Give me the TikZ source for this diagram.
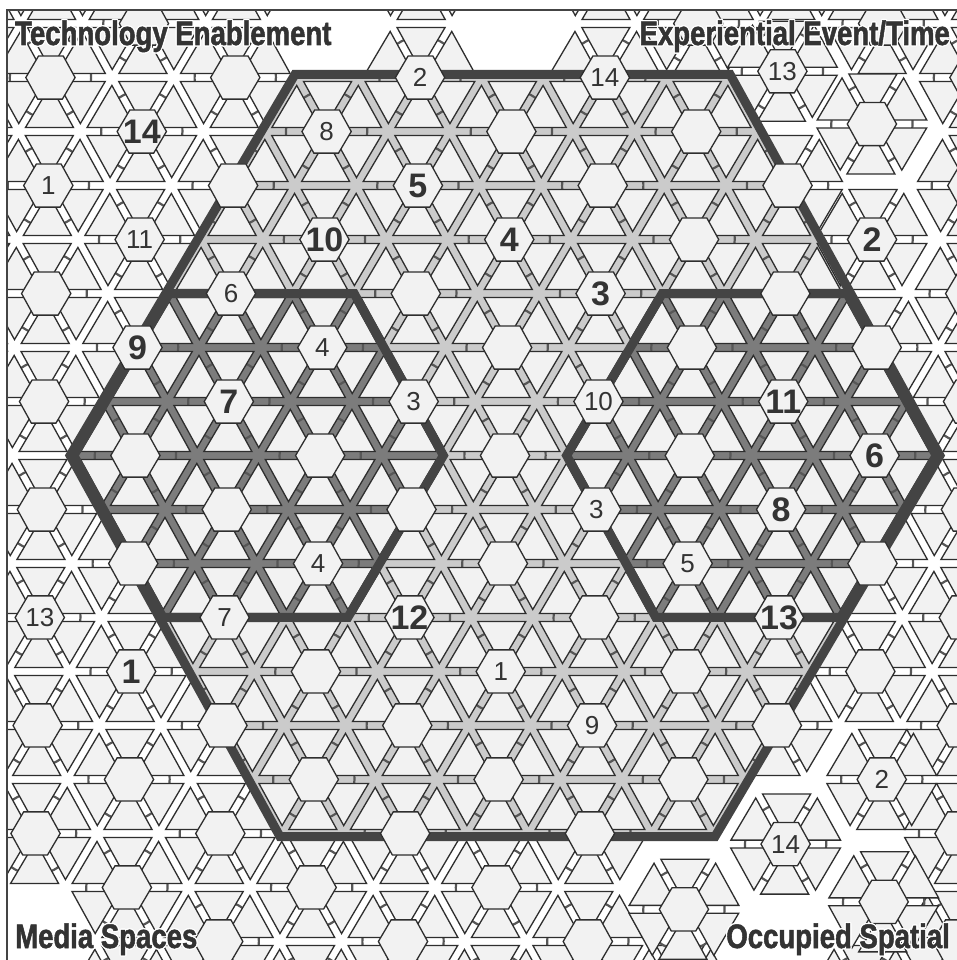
\documentclass[tikz,border=0pt]{standalone}
\usepackage{fontspec}
\usepackage{contour}
\newfontfamily\numfont{Liberation Sans}
\newfontfamily\titlefont[FakeStretch=0.81, BoldFeatures={FakeBold=1.5}]{Liberation Sans}
\contourlength{1.2pt}

\definecolor{tilefill}{HTML}{F2F2F2}
\definecolor{tileline}{HTML}{2E2E2E}
\definecolor{bandlight}{HTML}{CBCBCB}
\definecolor{bandmid}{HTML}{7C7C7C}
\definecolor{rim}{HTML}{444444}
\definecolor{ink}{HTML}{333333}

\tikzset{
  tri/.style={fill=tilefill, draw=tileline, line width=1.3pt},
  hexa/.style={fill=tilefill, draw=tileline, line width=1.3pt},
  notch/.style={draw=rim!90, line width=2.2pt},
  rimline/.style={draw=rim, line width=9pt, line join=miter},
  bignum/.style={font=\numfont\bfseries\fontsize{34}{34}\selectfont, text=ink, inner sep=0pt},
  smallnum/.style={font=\numfont\fontsize{26}{26}\selectfont, text=ink, inner sep=0pt},
  corner/.style={font=\titlefont\bfseries\fontsize{34}{34}\selectfont, text=ink, inner sep=0pt},
}

% six triangles round a tile
\newcommand{\petals}[3]{%
  \begin{scope}[shift={({#2},{#3})}]
    \draw[notch] (0,0) circle[radius=0.66];
    \foreach \k in {0,...,5}
      \draw[tri] (60*\k+30:0.127) -- ++(60*\k:0.78) -- ++(60*\k+120:0.78) -- cycle;
  \end{scope}}
% the hexagon itself
\newcommand{\hexcore}[3]{%
  \begin{scope}[shift={({#2},{#3})}]
    \coordinate (#1) at (0,0);
    \draw[hexa] (0:0.4) -- ++(120:0.4) -- ++(180:0.4) -- ++(240:0.4) -- ++(300:0.4) -- ++(0:0.4) -- cycle;
  \end{scope}}

\newcommand{\skipflower}[2]{\expandafter\def\csname skip@#1@#2\endcsname{}}
\skipflower{-2}{-3}
\skipflower{0}{-4}
\skipflower{-5}{7}
\skipflower{-6}{7}
\skipflower{3}{3}
\skipflower{3}{2}
\skipflower{4}{1}
\skipflower{4}{2}
\skipflower{2}{3}
\skipflower{3}{-5}
\skipflower{4}{-5}
\skipflower{4}{-4}

\newcommand{\eachtile}[1]{%
  \foreach \i in {-6,...,6}{
    \pgfmathtruncatemacro{\jlo}{ceil(-4.6-0.5*\i)}
    \pgfmathtruncatemacro{\jhi}{floor(5.1-0.5*\i)}
    \foreach \j in {\jlo,...,\jhi}{
      \ifcsname skip@\i@\j\endcsname\else
        #1{f\i_\j}{1.5*\i}{1.7320508*(\j+0.5*\i)}
      \fi}}
  % loose ones
  \foreach \i/\j/\dx/\dy in {3/2/0.18/0.17, 4/1/0.22/0, 4/2/0.29/0.23, 2/3/0.05/0.35,
                             3/-5/-0.12/-0.1, 4/-5/-0.15/-0.12, 4/-4/-0.11/0}
    {#1{f\i_\j}{1.5*\i+(\dx)}{1.7320508*(\j+0.5*\i)+(\dy)}}}

\begin{document}
\begin{tikzpicture}
\useasboundingbox (0pt,0pt) rectangle (957pt,-960pt);
\fill[white] (0pt,0pt) rectangle (957pt,-960pt);

\begin{scope}
  \clip (7pt,-10pt) rectangle (960pt,-963pt);
  \begin{scope}[shift={(505pt,-455.5pt)}, x={(61.6pt,0pt)}, y={(-1.23pt,-62.35pt)}]
    % band colours
    \fill[bandlight] (7.06,0) -- (3.53,6.114) -- (-3.53,6.114) -- (-7.06,0) -- (-3.53,-6.114) -- (3.53,-6.114) -- cycle;
    \fill[bandmid] (-1,0) -- (-2.5,2.598) -- (-5.5,2.598) -- (-7,0) -- (-5.5,-2.598) -- (-2.5,-2.598) -- cycle;
    \fill[bandmid] (7,0) -- (5.5,2.598) -- (2.5,2.598) -- (1,0) -- (2.5,-2.598) -- (5.5,-2.598) -- cycle;

    \eachtile{\petals}

    % rims
    \draw[rimline] (7.06,0) -- (3.53,6.114) -- (-3.53,6.114) -- (-7.06,0) -- (-3.53,-6.114) -- (3.53,-6.114) -- cycle;
    \draw[rimline] (-1,0) -- (-2.5,2.598) -- (-5.5,2.598) -- (-7,0) -- (-5.5,-2.598) -- (-2.5,-2.598) -- cycle;
    \draw[rimline] (7,0) -- (5.5,2.598) -- (2.5,2.598) -- (1,0) -- (2.5,-2.598) -- (5.5,-2.598) -- cycle;

    \eachtile{\hexcore}

    % numbers
    \node[bignum] (b14) at (f-4_-1) {14};
    \node[bignum] (b5) at (f-1_-2) {5};
    \node[bignum] (b10) at (f-2_-1) {10};
    \node[bignum] (b4) at (f0_-2) {4};
    \node[bignum] (b3) at (f1_-2) {3};
    \node[bignum] (b2) at (f4_-4) {2};
    \node[bignum] (b9) at (f-4_1) {9};
    \node[bignum] (b7) at (f-3_1) {7};
    \node[bignum] (b11) at (f3_-2) {11};
    \node[bignum] (b6) at (f4_-2) {6};
    \node[bignum] (b8) at (f3_-1) {8};
    \node[bignum] (b12) at (f-1_2) {12};
    \node[bignum] (b13) at (f3_0) {13};
    \node[bignum] (b1) at (f-4_4) {1};

    \node[smallnum] (s2) at (f-1_-3) {2};
    \node[smallnum] (s14) at (f1_-4) {14};
    \node[smallnum] (s13) at (f3_-5) {13};
    \node[smallnum] (s8) at (f-2_-2) {8};
    \node[smallnum] (s1) at (f-5_0) {1};
    \node[smallnum] (s11) at (f-4_0) {11};
    \node[smallnum] (s6) at (f-3_0) {6};
    \node[smallnum] (s4) at (f-2_0) {4};
    \node[smallnum] (s3) at (f-1_0) {3};
    \node[smallnum] (s10) at (f1_-1) {10};
    \node[smallnum] (s3b) at (f1_0) {3};
    \node[smallnum] (s4b) at (f-2_2) {4};
    \node[smallnum] (s5) at (f2_0) {5};
    \node[smallnum] (s13b) at (f-5_4) {13};
    \node[smallnum] (s7) at (f-3_3) {7};
    \node[smallnum] (s1b) at (f0_2) {1};
    \node[smallnum] (s9) at (f1_2) {9};
    \node[smallnum] (s2b) at (f4_1) {2};
    \node[smallnum] (s14b) at (f3_2) {14};
  \end{scope}
\end{scope}

% corner titles
\node[corner, anchor=base west] (tech) at (15pt,-45pt) {\contour{white}{Technology Enablement}};
\node[corner, anchor=base east] (event) at (950pt,-45pt) {\contour{white}{Experiential Event/Time}};
\node[corner, anchor=base west] (media) at (15pt,-948pt) {\contour{white}{Media Spaces}};
\node[corner, anchor=base east] (space) at (950pt,-948pt) {\contour{white}{Occupied Spatial}};

\draw[rim, line width=1.6pt] (7pt,-960pt) -- (7pt,-10pt) -- (957pt,-10pt);
\end{tikzpicture}
\end{document}
